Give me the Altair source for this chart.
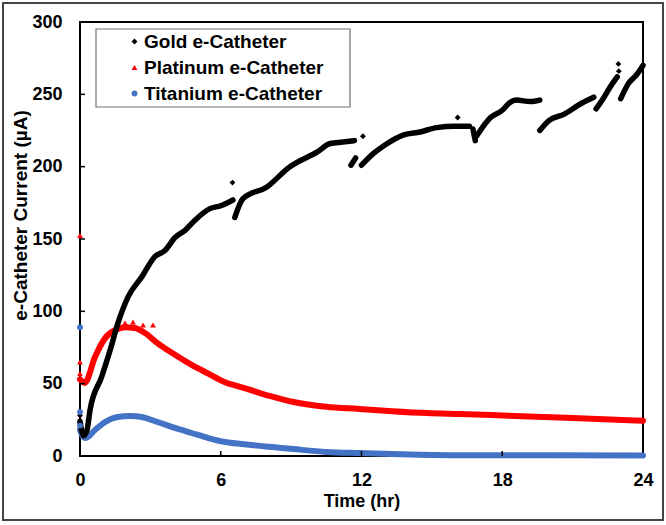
import altair as alt
import pandas as pd

# ---- Gold e-Catheter: current trace, drawn as separate pieces (the record jumps) ----
gold_segments = [
    ([0.0, 0.15, 0.3, 0.43, 0.93, 1.28, 1.62, 2.05, 2.64, 3.2, 3.62, 4.05, 4.48, 4.9, 5.54, 6.0, 6.52],
     [24, 14, 18, 32, 55, 73, 92, 110, 124, 138, 142, 151, 156, 163, 171, 173, 177]),
    ([6.6, 6.95, 7.97, 8.95, 9.25, 10.1, 10.66, 11.2, 11.7],
     [165, 178, 186, 200, 203, 210, 216, 217, 218]),
    ([11.55, 11.75],
     [201, 206]),
    ([12.0, 12.5, 13.0, 13.8, 14.5, 15.2, 16.0, 16.6],
     [201, 209, 215, 222, 224, 227, 228, 228]),
    ([16.75, 16.85],
     [226, 218]),
    ([16.9, 17.5, 18.0, 18.3, 18.6, 19.2, 19.6],
     [221, 234, 239, 244, 246, 245, 246]),
    ([19.6, 20.0, 20.6, 21.4, 21.9],
     [225, 232, 236, 244, 248]),
    ([22.0, 22.3, 22.6, 22.9],
     [240, 247, 255, 262]),
    ([23.05, 23.4, 23.7, 24.0],
     [247, 258, 263, 270]),
]
gold_scatter_t = [0.0, 0.0, 6.5, 12.06, 16.1, 22.95, 22.97]
gold_scatter_v = [28, 23, 189, 221, 234, 271, 266]

# ---- Platinum e-Catheter ----
plat_t = [0.0, 0.2, 0.64, 1.07, 1.49, 1.92, 2.34, 2.77, 3.3, 4.05, 4.76, 5.47, 6.18, 6.9,
          7.67, 8.2, 9.1, 10.5, 11.9, 13.3, 14.8, 16.2, 18.0, 21.0, 24.0]
plat_v = [53, 50.5, 68.5, 81.5, 87, 89, 88.5, 85, 78, 70, 63, 57, 51, 47.5,
          43.5, 41, 37.3, 34, 32.5, 31, 29.7, 29, 28, 26.3, 24.4]
plat_scatter_t = [0.0, 0.0, 0.0, 1.92, 2.26, 2.69, 3.11]
plat_scatter_v = [152.5, 65, 57, 92, 92.6, 90.5, 90.5]

# ---- Titanium e-Catheter ----
ti_t = [0.0, 0.15, 0.25, 0.64, 1.07, 1.6, 2.13, 2.63, 3.3, 4.05, 4.76, 5.47, 6.18, 6.9,
        7.67, 8.2, 9.1, 10.5, 11.9, 13.3, 16.0, 20.0, 24.0]
ti_v = [18, 13, 12.5, 18, 23.5, 27, 27.7, 27, 23.5, 19.4, 15.9, 12.4, 9.7, 8.3,
        7, 6.2, 4.8, 2.8, 2, 1.4, 0.6, 0.5, 0.4]
ti_scatter_t = [0.0, 0.0, 0.0]
ti_scatter_v = [89, 30.5, 21]

series = ["Gold e-Catheter", "Platinum e-Catheter", "Titanium e-Catheter"]
colors = ["#000000", "#FF0000", "#4472C4"]
shapes = ["diamond", "triangle-up", "circle"]

x_ticks = [0, 6, 12, 18, 24]
y_ticks = [0, 50, 100, 150, 200, 250, 300]

# ---- tables ----
line_rows = []
for i, (ts, vs) in enumerate(gold_segments):
    for t, v in zip(ts, vs):
        line_rows.append({"t": t, "v": v, "s": series[0], "seg": f"g{i}"})
for t, v in zip(plat_t, plat_v):
    line_rows.append({"t": t, "v": v, "s": series[1], "seg": "p"})
for t, v in zip(ti_t, ti_v):
    line_rows.append({"t": t, "v": v, "s": series[2], "seg": "t"})
lines_df = pd.DataFrame(line_rows)

pt_rows = []
for name, ts, vs in [(series[0], gold_scatter_t, gold_scatter_v),
                     (series[1], plat_scatter_t, plat_scatter_v),
                     (series[2], ti_scatter_t, ti_scatter_v)]:
    for t, v in zip(ts, vs):
        pt_rows.append({"t": t, "v": v, "s": name})
points_df = pd.DataFrame(pt_rows)

FONT = "Liberation Sans"
W, H = 563, 434

x_scale = alt.Scale(domain=[0, 24], nice=False)
y_scale = alt.Scale(domain=[0, 300], nice=False)

x_axis = alt.Axis(values=x_ticks, title="Time (hr)", grid=False, domain=False, ticks=False,
                  tickSize=0, labelPadding=15, labelFont=FONT, labelFontSize=18,
                  labelFontWeight="bold", labelColor="#000", titleFont=FONT,
                  titleFontSize=18, titleFontWeight="bold", titleColor="#000",
                  titleX=W / 2, titleY=50, titleBaseline="alphabetic", labelFlush=False)
y_axis = alt.Axis(values=y_ticks, title="e-Catheter Current (µA)", grid=False, domain=False,
                  ticks=False, tickSize=0, labelPadding=18, labelFont=FONT, labelFontSize=18,
                  labelFontWeight="bold", labelColor="#000", titleFont=FONT,
                  titleFontSize=19, titleFontWeight="bold", titleColor="#000",
                  titleAngle=-90, titleX=-54, titleY=193, titleAlign="center",
                  titleBaseline="alphabetic")

color_scale = alt.Scale(domain=series, range=colors)


def trace(name, color, width):
    return alt.Chart(lines_df).transform_filter(alt.datum.s == name).mark_line(
        strokeWidth=width, strokeCap="round", strokeJoin="round", color=color,
        interpolate="monotone",
    ).encode(
        x=alt.X("t:Q", scale=x_scale),
        y=alt.Y("v:Q", scale=y_scale),
        detail="seg:N",
    )


gold_line = trace(series[0], "#000000", 5.5).encode(
    x=alt.X("t:Q", scale=x_scale, axis=x_axis),
    y=alt.Y("v:Q", scale=y_scale, axis=y_axis),
)
plat_line = trace(series[1], "#FF0000", 6)
ti_line = trace(series[2], "#4472C4", 6)

points = alt.Chart(points_df).mark_point(filled=True, size=34, opacity=1).encode(
    x=alt.X("t:Q", scale=x_scale),
    y=alt.Y("v:Q", scale=y_scale),
    color=alt.Color("s:N", scale=color_scale, sort=series,
                    legend=alt.Legend(title=None, orient="none", legendX=45, legendY=10,
                                      labelFont=FONT, labelFontSize=19, labelFontWeight="bold",
                                      labelColor="#000", labelOffset=0, rowPadding=6,
                                      padding=0, symbolSize=34, symbolStrokeWidth=0,
                                      labelLimit=400)),
    shape=alt.Shape("s:N", scale=alt.Scale(domain=series, range=shapes), sort=series),
)

# inward tick marks on the left and bottom frame edges
ytick_df = pd.DataFrame({"v": y_ticks[1:-1]})
xtick_df = pd.DataFrame({"t": x_ticks[1:-1]})
y_tick_marks = alt.Chart(ytick_df).mark_rule(color="#000", strokeWidth=1.5).encode(
    y=alt.Y("v:Q", scale=y_scale), x=alt.value(0), x2=alt.value(5))
x_tick_marks = alt.Chart(xtick_df).mark_rule(color="#000", strokeWidth=1.5).encode(
    x=alt.X("t:Q", scale=x_scale), y=alt.value(H), y2=alt.value(H - 5))

one = pd.DataFrame({"k": [0]})
legend_box = alt.Chart(one).mark_rect(fillOpacity=0, stroke="#707070", strokeWidth=1.2).encode(
    x=alt.value(16), x2=alt.value(270), y=alt.value(7), y2=alt.value(85))
outer_box = alt.Chart(one).mark_rect(fillOpacity=0, stroke="#444444", strokeWidth=2).encode(
    x=alt.value(-77), x2=alt.value(583), y=alt.value(-19), y2=alt.value(498))

chart = alt.layer(
    outer_box, legend_box, ti_line, plat_line, gold_line, points, y_tick_marks, x_tick_marks
).properties(
    width=W, height=H,
    autosize=alt.AutoSizeParams(type="none"),
    padding={"left": 80, "top": 22, "right": 23, "bottom": 69},
    background="#ffffff",
).configure_view(
    stroke="#000000", strokeWidth=2
)

chart.save("out.html", embed_options={"renderer": "svg", "actions": False})
